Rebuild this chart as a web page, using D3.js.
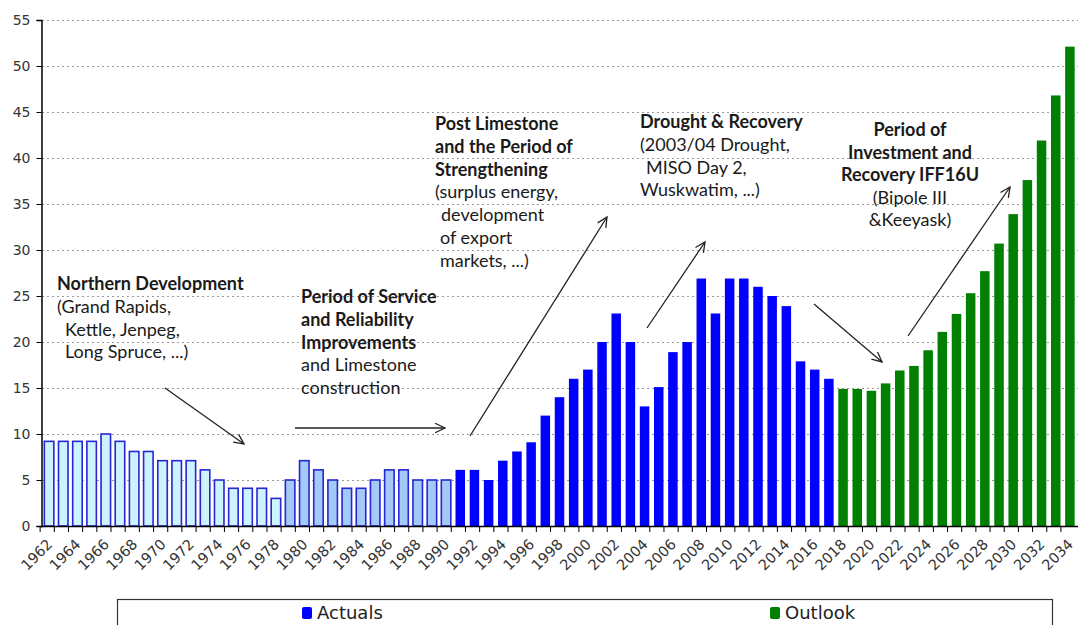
<!DOCTYPE html>
<html>
<head>
<meta charset="utf-8">
<script src="https://cdn.jsdelivr.net/npm/d3@7"></script>
<style>
  body { margin: 0; background: #fff; }
  svg { display: block; }
</style>
</head>
<body>
<div id="chart"></div>
<script>
// categories
const years = d3.range(1962, 2035);
const yTicks = [0, 5, 10, 15, 20, 25, 30, 35, 40, 45, 50, 55];

// values by period
const earlyValues = [9.2, 9.2, 9.2, 9.2, 10, 9.2, 8.1, 8.1, 7.1, 7.1, 7.1, 6.1, 5, 4.1, 4.1, 4.1, 3];        // 1962-1978
const serviceValues = [5, 7.1, 6.1, 5, 4.1, 4.1, 5, 6.1, 6.1, 5, 5, 5];                                     // 1979-1990
const actualValues = [6.1, 6.1, 5, 7.1, 8.1, 9.1, 12, 14, 16, 17, 20, 23.1, 20, 13, 15.1, 18.9, 20,
                      26.9, 23.1, 26.9, 26.9, 26, 25, 23.9, 17.9, 17, 16];                                  // 1991-2017
const outlookValues = [14.9, 14.9, 14.7, 15.5, 16.9, 17.4, 19.1, 21.1, 23.05, 25.3, 27.7, 30.7, 33.9,
                       37.6, 41.9, 46.8, 52.1];                                                            // 2018-2034

const groups = [
  { values: earlyValues, fill: "#cdf3ff", stroke: "#2626d4" },
  { values: serviceValues, fill: "#a3c9f7", stroke: "#2626d4" },
  { values: actualValues, fill: "#0000ff", stroke: "none" },
  { values: outlookValues, fill: "#007f00", stroke: "none" }
];

const data = [];
groups.forEach(g => g.values.forEach(v => data.push({ year: years[data.length], value: v, fill: g.fill, stroke: g.stroke })));

const W = 1081, H = 625;
const svg = d3.select("#chart").append("svg")
    .attr("width", W)
    .attr("height", H);

const xScale = d3.scaleBand()
    .domain(years)
    .range([42, 1077])
    .paddingInner(0.33)
    .paddingOuter(0.165);

const yScale = d3.scaleLinear()
    .domain([0, 55])
    .range([526, 20]);

// gridlines
svg.append("g")
    .selectAll("line")
    .data(yTicks.filter(d => d > 0))
    .enter()
    .append("line")
    .attr("x1", 42)
    .attr("x2", 1078)
    .attr("y1", d => yScale(d) + 0.5)
    .attr("y2", d => yScale(d) + 0.5)
    .style("stroke", "#9a9a9a")
    .style("stroke-dasharray", "2,3");

// bars
svg.append("g")
    .selectAll("rect")
    .data(data)
    .enter()
    .append("rect")
    .attr("x", d => xScale(d.year))
    .attr("y", d => yScale(d.value))
    .attr("width", xScale.bandwidth())
    .attr("height", d => yScale(0) - yScale(d.value))
    .style("fill", d => d.fill)
    .style("stroke", d => d.stroke)
    .style("stroke-width", 1.6);

// y axis
const yAxis = d3.axisLeft(yScale).tickValues(yTicks).tickSize(5).tickPadding(6);
const gy = svg.append("g")
    .attr("transform", "translate(41.5,0)")
    .call(yAxis);
gy.select(".domain").attr("stroke", "#000").attr("stroke-width", 1.5);
gy.selectAll(".tick line").attr("stroke", "#000");
gy.selectAll("text")
    .style("font-family", "DejaVu Sans")
    .style("font-size", "14px")
    .style("fill", "#333");

// x axis: ticks between categories, label every other year
const step = xScale.step();
const xg = svg.append("g");
xg.append("line")
    .attr("x1", 41).attr("x2", 1078)
    .attr("y1", 526.5).attr("y2", 526.5)
    .style("stroke", "#000")
    .style("stroke-width", 1.5);
xg.selectAll(".xtick")
    .data(years)
    .enter()
    .append("line")
    .attr("x1", d => xScale(d) - xScale.bandwidth() * 0.25 - step * 0.165 + 0.5)
    .attr("x2", d => xScale(d) - xScale.bandwidth() * 0.25 - step * 0.165 + 0.5)
    .attr("y1", 526)
    .attr("y2", 532)
    .style("stroke", "#000");
xg.selectAll(".xlabel")
    .data(years.filter((d, i) => i % 2 === 0))
    .enter()
    .append("text")
    .attr("transform", d => `translate(${xScale(d) + xScale.bandwidth() / 2 - 3}, 538) rotate(-45)`)
    .attr("text-anchor", "end")
    .attr("dy", "0.7em")
    .style("font-family", "DejaVu Sans")
    .style("font-size", "14.5px")
    .style("fill", "#333")
    .text(d => d);

// annotations
const notes = [
  { x: 57, y: 290, lines: [["Northern Development", 1, 0], ["(Grand Rapids,", 0, 0], ["Kettle, Jenpeg,", 0, 8], ["Long Spruce, ...)", 0, 8]] },
  { x: 301, y: 303, lines: [["Period of Service", 1, 0], ["and Reliability", 1, 0], ["Improvements", 1, 0], ["and Limestone", 0, 0], ["construction", 0, 0]] },
  { x: 435, y: 130, lines: [["Post Limestone", 1, 0], ["and the Period of", 1, 0], ["Strengthening", 1, 0], ["(surplus energy,", 0, 0], ["development", 0, 6], ["of export", 0, 5], ["markets, ...)", 0, 5]] },
  { x: 640, y: 128, lines: [["Drought & Recovery", 1, 0], ["(2003/04 Drought,", 0, 0], ["MISO Day 2,", 0, 6], ["Wuskwatim, ...)", 0, 0]] }
];
notes.forEach(n => {
  const t = svg.append("text")
      .style("font-family", "Lato")
      .style("font-size", "18px")
      .style("fill", "#1a1a1a");
  n.lines.forEach((l, i) => {
    t.append("tspan")
        .attr("x", n.x + l[2])
        .attr("y", n.y + i * 22.8)
        .style("font-weight", l[1] ? "bold" : "normal")
        .text(l[0]);
  });
});

const centered = [["Period of", 1], ["Investment and", 1], ["Recovery IFF16U", 1], ["(Bipole III", 0], ["&Keeyask)", 0]];
const ct = svg.append("text")
    .attr("text-anchor", "middle")
    .style("font-family", "Lato")
    .style("font-size", "18px")
    .style("fill", "#1a1a1a");
centered.forEach((l, i) => {
  ct.append("tspan")
      .attr("x", 910)
      .attr("y", 136 + i * 22.6)
      .style("font-weight", l[1] ? "bold" : "normal")
      .text(l[0]);
});

// arrows
const arrows = [
  [165, 388, 244, 444],
  [295, 428, 445, 428],
  [470, 436, 607, 217],
  [647, 328, 705, 242],
  [814, 304, 882, 362],
  [908, 336, 1010, 187]
];
const ag = svg.append("g")
    .style("stroke", "#222")
    .style("stroke-width", 1.3)
    .style("fill", "none");
arrows.forEach(a => {
  const ang = Math.atan2(a[3] - a[1], a[2] - a[0]);
  const head = 11, spread = 0.45;
  ag.append("line")
      .attr("x1", a[0]).attr("y1", a[1])
      .attr("x2", a[2]).attr("y2", a[3]);
  ag.append("path")
      .attr("d", d3.line()([
        [a[2] - head * Math.cos(ang - spread), a[3] - head * Math.sin(ang - spread)],
        [a[2], a[3]],
        [a[2] - head * Math.cos(ang + spread), a[3] - head * Math.sin(ang + spread)]
      ]));
});

// legend
const legend = svg.append("g");
legend.append("rect")
    .attr("x", 117.5)
    .attr("y", 599.5)
    .attr("width", 935)
    .attr("height", 40)
    .style("fill", "#fff")
    .style("stroke", "#333")
    .style("stroke-width", 1.2);

const legendItems = legend.selectAll(".legend-item")
    .data([{ name: "Actuals", color: "#0000ff", x: 302 }, { name: "Outlook", color: "#007f00", x: 770 }])
    .enter()
    .append("g")
    .attr("class", "legend-item")
    .attr("transform", d => `translate(${d.x},607)`);

legendItems.append("rect")
    .attr("width", 10)
    .attr("height", 12)
    .attr("rx", 2)
    .style("fill", d => d.color);

legendItems.append("text")
    .attr("x", 15)
    .attr("y", 12)
    .style("font-family", "DejaVu Sans")
    .style("font-size", "18px")
    .style("fill", "#222")
    .text(d => d.name);
</script>
</body>
</html>
